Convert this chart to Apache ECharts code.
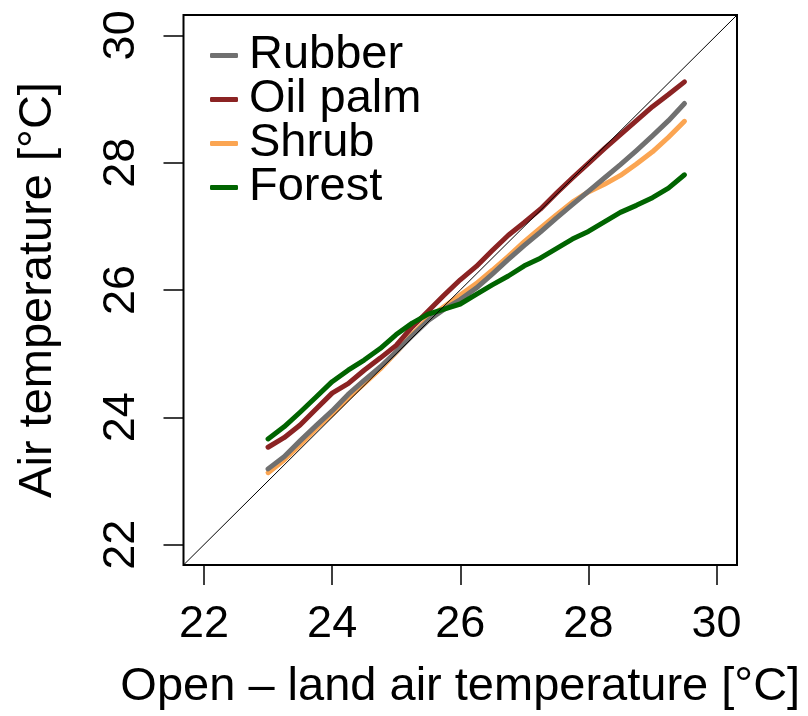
<!DOCTYPE html>
<html>
<head>
<meta charset="utf-8">
<script src="https://cdn.jsdelivr.net/npm/echarts@6/dist/echarts.min.js"></script>
<style>
  html, body { margin: 0; padding: 0; background: #ffffff; }
  #chart { width: 808px; height: 716px; }
</style>
</head>
<body>
<div id="chart"></div>
<script>
// Open-land air temperature (x) and the matching air temperature under each land cover (y), in °C
const openLand = [23.00, 23.25, 23.50, 23.75, 24.00, 24.25, 24.50, 24.75, 25.00, 25.25, 25.50, 25.75, 26.00,
                  26.25, 26.50, 26.75, 27.00, 27.25, 27.50, 27.75, 28.00, 28.25, 28.50, 28.75, 29.00, 29.25, 29.50];
const rubber   = [23.19, 23.38, 23.63, 23.87, 24.10, 24.36, 24.58, 24.79, 25.03, 25.28, 25.52, 25.70, 25.85,
                  26.03, 26.25, 26.48, 26.70, 26.91, 27.13, 27.34, 27.55, 27.76, 27.97, 28.19, 28.42, 28.66, 28.93];
const oilPalm  = [23.53, 23.68, 23.88, 24.13, 24.38, 24.53, 24.74, 24.93, 25.13, 25.42, 25.67, 25.92, 26.16,
                  26.37, 26.62, 26.86, 27.06, 27.27, 27.52, 27.76, 27.99, 28.22, 28.44, 28.66, 28.88, 29.07, 29.27];
const shrub    = [23.13, 23.33, 23.57, 23.82, 24.05, 24.30, 24.53, 24.76, 25.02, 25.30, 25.55, 25.74, 25.92,
                  26.10, 26.31, 26.53, 26.76, 26.97, 27.18, 27.38, 27.54, 27.66, 27.80, 27.98, 28.17, 28.40, 28.65];
const forest   = [23.66, 23.85, 24.08, 24.32, 24.56, 24.74, 24.90, 25.08, 25.30, 25.48, 25.62, 25.70, 25.78,
                  25.93, 26.08, 26.22, 26.38, 26.50, 26.65, 26.80, 26.92, 27.07, 27.22, 27.33, 27.45, 27.60, 27.81];

const tickValues = [22, 24, 26, 28, 30];
const axisMin = 21.68;
const axisMax = 30.32;

const seriesNames = ['Rubber', 'Oil palm', 'Shrub', 'Forest'];
const seriesColors = ['#707070', '#8b2323', '#fba552', '#006400'];

const FONT = '"Liberation Sans", Arial, Helvetica, sans-serif';

function pairs(ys) {
  return openLand.map((x, i) => [x, ys[i]]);
}

function curve(name, ys, color, z) {
  return {
    name: name,
    type: 'line',
    data: pairs(ys),
    showSymbol: false,
    symbol: 'none',
    smooth: false,
    z: z,
    lineStyle: { color: color, width: 5, cap: 'round', join: 'round' },
    itemStyle: { color: color },
    emphasis: { disabled: true },
    silent: true
  };
}

const chart = echarts.init(document.getElementById('chart'), null, { renderer: 'canvas' });

const option = {
  animation: false,
  backgroundColor: '#ffffff',
  textStyle: { fontFamily: FONT },
  grid: {
    left: 183.5, right: 71, top: 15, bottom: 148,
    show: true, borderColor: '#000000', borderWidth: 2, backgroundColor: 'transparent',
    containLabel: false
  },
  legend: {
    orient: 'vertical',
    left: 205,
    top: 27,
    itemWidth: 28,
    itemHeight: 5,
    itemGap: -3,
    icon: 'roundRect',
    data: seriesNames,
    textStyle: { fontFamily: FONT, fontSize: 47, color: '#000000', lineHeight: 44, padding: [0, 0, 0, 6] },
    selectedMode: false
  },
  xAxis: {
    type: 'value',
    min: axisMin,
    max: axisMax,
    name: 'Open – land air temperature [°C]',
    nameLocation: 'middle',
    nameGap: 99,
    nameTextStyle: { fontFamily: FONT, fontSize: 47, color: '#000000' },
    axisLine: { show: false },
    splitLine: { show: false },
    axisTick: { show: true, inside: false, length: 20, customValues: tickValues,
                lineStyle: { color: '#000000', width: 1.5 } },
    axisLabel: { show: true, customValues: tickValues, margin: 37, fontFamily: FONT, fontSize: 45, color: '#000000' }
  },
  yAxis: {
    type: 'value',
    min: axisMin,
    max: axisMax,
    name: 'Air temperature [°C]',
    nameLocation: 'middle',
    nameGap: 122,
    nameRotate: 90,
    nameTextStyle: { fontFamily: FONT, fontSize: 47, color: '#000000' },
    axisLine: { show: false },
    splitLine: { show: false },
    axisTick: { show: true, inside: false, length: 20, customValues: tickValues,
                lineStyle: { color: '#000000', width: 1.5 } },
    axisLabel: { show: true, customValues: tickValues, rotate: 90, margin: 39, fontFamily: FONT, fontSize: 45, color: '#000000' }
  },
  series: [
    curve('Shrub', shrub, seriesColors[2], 2),
    curve('Rubber', rubber, seriesColors[0], 3),
    curve('Oil palm', oilPalm, seriesColors[1], 4),
    curve('Forest', forest, seriesColors[3], 5),
    {
      // 1:1 reference line across the whole plotting region
      name: '1:1',
      type: 'line',
      data: [[axisMin, axisMin], [axisMax, axisMax]],
      showSymbol: false,
      symbol: 'none',
      z: 10,
      lineStyle: { color: '#000000', width: 1 },
      silent: true
    }
  ]
};

chart.setOption(option);
</script>
</body>
</html>
